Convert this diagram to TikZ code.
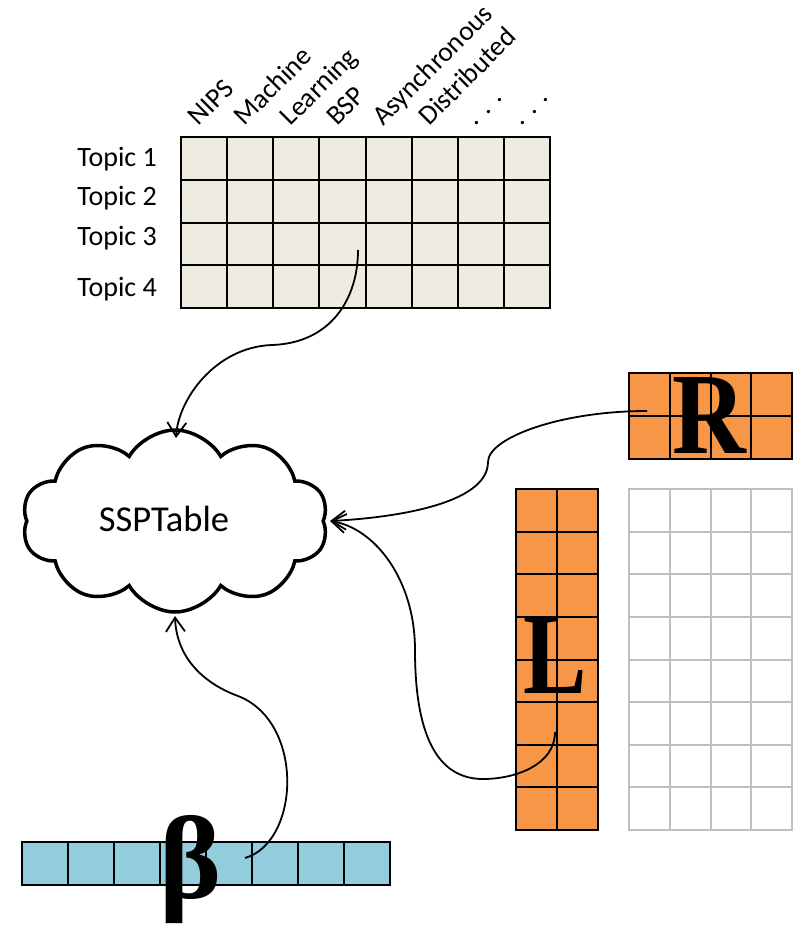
\documentclass[tikz,border=0pt]{standalone}
\usepackage{fontspec}
\usepackage{graphicx}
\setmainfont{Carlito}
\newfontfamily\bigserif{Liberation Serif}
\usetikzlibrary{shapes.symbols,arrows.meta}
\definecolor{gridbeige}{HTML}{EEECE1}
\definecolor{orangefill}{HTML}{F79646}
\definecolor{bluefill}{HTML}{93CDDD}
\definecolor{greyline}{HTML}{BFBFBF}
\tikzset{
  gridline/.style={line width=2pt, black},
  greygrid/.style={line width=2pt, greyline},
  collabel/.style={rotate=45, anchor=base west, inner sep=0pt, font=\fontsize{27.5}{27.5}\selectfont},
  rowlabel/.style={anchor=base east, inner sep=0pt, font=\fontsize{28}{28}\selectfont},
  bigletter/.style={anchor=base, inner sep=0pt, font=\bigserif\bfseries\fontsize{116}{116}\selectfont},
  conn/.style={line width=1.8pt, -{Straight Barb[length=14pt,width=19pt,line width=1.8pt]}},
  cloudbox/.style={cloud, draw, line width=3.5pt, cloud puffs=10, cloud puff arc=120, aspect=1.7, minimum width=306pt, minimum height=182pt, inner sep=0pt},
}
\begin{document}
\begin{tikzpicture}[x=1pt,y=-1pt]
\useasboundingbox (0,0) rectangle (794,926);

% ---------- top topic/word grid ----------
\fill[gridbeige] (181,137) rectangle (550,308);
\foreach \i in {0,...,8} \draw[gridline] ({181+\i*46.125},137) -- ++(0,171);
\foreach \j in {0,...,4} \draw[gridline] (180,{137+\j*42.75}) -- ++(371,0);

\foreach \w [count=\i from 0] in {NIPS,Machine,Learning,BSP,Asynchronous,Distributed,{.\hspace{.35em}.\hspace{.35em}.},{.\hspace{.35em}.\hspace{.35em}.}}
  \node[collabel] (word\i) at ({181+\i*46.125+17.5},127) {\w};

\node[rowlabel] (topic1) at (157,166.5) {Topic 1};
\node[rowlabel] (topic2) at (157,205) {Topic 2};
\node[rowlabel] (topic3) at (157,245) {Topic 3};
\node[rowlabel] (topic4) at (157,296) {Topic 4};

% ---------- cloud ----------
\node[cloudbox] (cloud) at (175,521) {};
\node[inner sep=0pt, font=\fontsize{36.5}{36.5}\selectfont] (ssp) at (164,519) {SSPTable};

% ---------- R grid ----------
\fill[orangefill] (629,373) rectangle (792,459);
\foreach \i in {0,...,4} \draw[gridline] ({629+\i*40.75},373) -- ++(0,86);
\foreach \j in {0,...,2} \draw[gridline] (628,{373+\j*43}) -- ++(165,0);
\node[bigletter] (R) at (709,453) {\scalebox{0.88}[1]{R}};

% ---------- L grid ----------
\fill[orangefill] (516,489) rectangle (598,830);
\foreach \i in {0,...,2} \draw[gridline] ({516+\i*41},489) -- ++(0,341);
\foreach \j in {0,...,8} \draw[gridline] (515,{489+\j*42.625}) -- ++(84,0);
\node[bigletter] (L) at (555,693) {\scalebox{0.82}[1]{L}};

% ---------- grey grid ----------
\foreach \i in {0,...,4} \draw[greygrid] ({629+\i*40.75},489) -- ++(0,341);
\foreach \j in {0,...,8} \draw[greygrid] (628,{489+\j*42.625}) -- ++(165,0);

% ---------- beta grid ----------
\fill[bluefill] (21.5,842) rectangle (390,885);
\foreach \i in {0,...,8} \draw[gridline] ({21.5+\i*46.06},842) -- ++(0,43);
\foreach \j in {0,...,1} \draw[gridline] (20.5,{842+\j*43}) -- ++(370.5,0);
\node[bigletter, font=\bigserif\bfseries\fontsize{118}{118}\selectfont] (beta) at (191,898) {β};

% ---------- connectors ----------
\coordinate (tstart) at (358,250);
\coordinate (rstart) at (647,411);
\coordinate (lstart) at (555,732);
\coordinate (bstart) at (245,858);
\coordinate (ctop) at (176,438);
\coordinate (cright) at (330,521);
\coordinate (cbot) at (175,616);
\coordinate (tmid) at (272,345);
\coordinate (rmid) at (488,462);
\coordinate (lmid) at (483,779);
\coordinate (lmid2) at (415,650);
\coordinate (bmid) at (238,696);

\draw[conn] (tstart) .. controls (358,300) and (330,343) .. (tmid)
  .. controls (215,347) and (178,400) .. (ctop);
\draw[conn] (rstart) .. controls (560,411) and (488,438) .. (rmid)
  .. controls (488,505) and (390,518) .. (cright);
\draw[conn] (lstart) .. controls (555,765) and (515,779) .. (lmid)
  .. controls (430,779) and (415,720) .. (lmid2)
  .. controls (415,580) and (375,528) .. (cright);
\draw[conn] (bstart) .. controls (300,842) and (305,722) .. (bmid)
  .. controls (195,680) and (176,650) .. (cbot);
\end{tikzpicture}
\end{document}
